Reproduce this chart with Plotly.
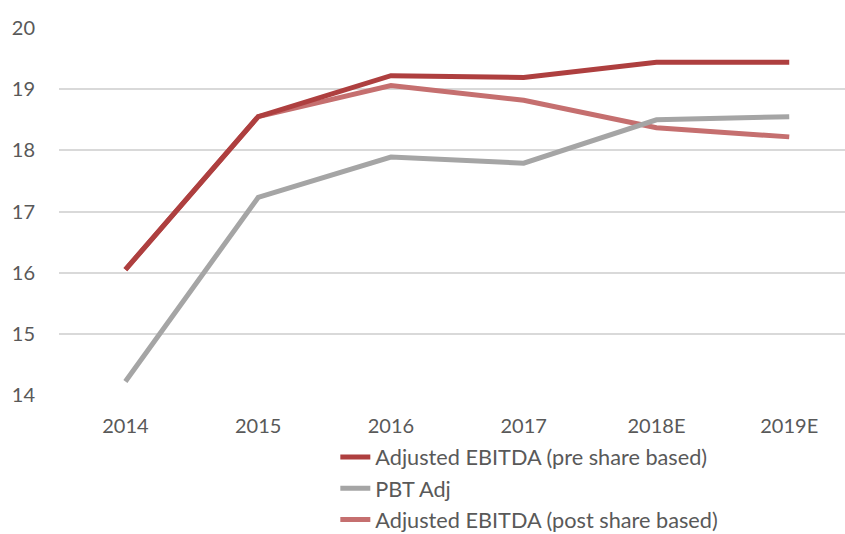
import plotly.graph_objects as go

years = ["2014", "2015", "2016", "2017", "2018E", "2019E"]
pre_share = [16.05, 18.55, 19.22, 19.19, 19.44, 19.44]
pbt_adj = [14.22, 17.23, 17.89, 17.79, 18.50, 18.55]
post_share = [16.05, 18.55, 19.06, 18.82, 18.37, 18.22]

names = ["Adjusted EBITDA (pre share based)", "PBT Adj", "Adjusted EBITDA (post share based)"]
colors = ["#AE3F3F", "#A5A5A5", "#C56F6F"]

W, H = 845, 534
L, T, B = 58.5, 27.5, 395.5
PW, PH = W - L, B - T

fig = go.Figure()
for ys, n, c in reversed(list(zip([pre_share, pbt_adj, post_share], names, colors))):
    fig.add_trace(go.Scatter(x=years, y=ys, name=n, mode="lines",
                             line=dict(color=c, width=5)))

fam = "Lato, Open Sans, sans-serif"
fig.update_layout(
    width=W, height=H,
    margin=dict(l=L, r=0, t=T, b=H - B, autoexpand=False),
    plot_bgcolor="white", paper_bgcolor="white",
    font=dict(family=fam, size=20, color="#595959"),
    showlegend=True,
    legend=dict(x=(335 - L) / PW, y=(B - 437) / PH,
                xanchor="left", yanchor="top", traceorder="reversed",
                font=dict(family=fam, size=21.7, color="#595959"),
                tracegroupgap=0, bgcolor="rgba(0,0,0,0)"),
    xaxis=dict(type="category", range=[-0.5, 5.42], showgrid=False, zeroline=False,
               showline=False, ticks="", ticklabelstandoff=17, tickangle=0),
    yaxis=dict(range=[14, 20], dtick=1, showgrid=True, gridcolor="#D9D9D9", gridwidth=1.5,
               zeroline=False, showline=False, ticks="", ticklabelstandoff=23),
)
fig.write_html("out.html", config={"displayModeBar": False},
               post_script="document.body.style.margin='0';document.body.style.padding='0';")
